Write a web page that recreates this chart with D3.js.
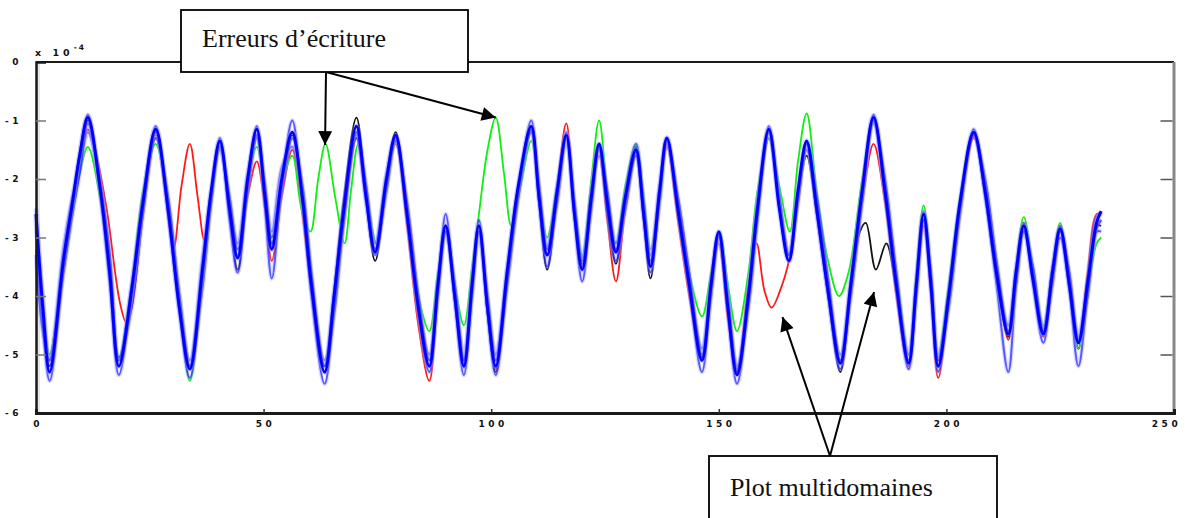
<!DOCTYPE html>
<html><head><meta charset="utf-8">
<script src="https://cdn.jsdelivr.net/npm/d3@7"></script>
<style>
html,body{margin:0;padding:0;background:#fff;}
svg{display:block;}
.tick text{font-family:"DejaVu Sans",sans-serif;font-weight:bold;font-size:9px;fill:#111;letter-spacing:3.5px;}
</style></head>
<body>
<svg id="chart" width="1194" height="518"></svg>
<script>
// ---------------- data (values in units of 1e-4) ----------------
const xTicks = [0, 50, 100, 150, 200, 250];
const yTicks = [0, -1, -2, -3, -4, -5, -6];
const exponentLabel = ["x 10", "-4"];

const TIMES = [0,1.5,3,6,8,9.6,11.4,14,16.2,18.2,
 21,23.5,26.3,29,31.5,33.8,36.5,38.5,40.4,42.5,
 44.3,46.5,48.5,50.3,51.8,54,56.3,58.5,60.5,63.4,
 65.5,67.5,70.4,72.5,74.5,77,79,81.5,84,86.4,
 88.3,90,92,94,95.8,97.3,99.2,101,103.5,106,
 108.8,110.5,112.3,114.5,116.5,118.3,120,122,123.7,125.5,
 127.4,129.5,131.8,133.5,135,137,138.6,141,143.5,146.3,
 148.3,150,152,154,156.5,158.5,161,163.3,165.4,167.4,
 169.3,171.5,174,176.7,179,181.5,184,186.5,189,191.7,
 193.4,195,196.6,198.2,200.5,203,206,208.5,211,213.6,
 215.3,217,219,221.3,223.3,225,227,229,231,233,234];

const blueA = [-2.6,-4.2,-5.3,-3.4,-2.4,-1.6,-0.95,-2.1,-3.6,-5.2,
 -3.9,-2.4,-1.15,-2.5,-4.2,-5.25,-3.6,-2.2,-1.35,-2.5,
 -3.35,-2.0,-1.15,-2.3,-3.2,-2.0,-1.2,-2.3,-3.8,-5.3,
 -4.0,-2.6,-1.1,-2.3,-3.25,-2.0,-1.25,-2.6,-4.2,-5.2,
 -3.8,-2.8,-4.0,-5.2,-3.8,-2.8,-4.2,-5.2,-3.6,-2.1,
 -1.1,-2.3,-3.3,-2.2,-1.25,-2.6,-3.55,-2.3,-1.4,-2.4,
 -3.25,-2.3,-1.5,-2.6,-3.5,-2.2,-1.3,-2.5,-3.8,-5.1,
 -3.8,-2.9,-4.2,-5.35,-4.0,-2.5,-1.15,-2.5,-3.4,-2.2,
 -1.35,-2.5,-3.9,-5.15,-3.8,-2.2,-0.95,-2.2,-3.8,-5.15,
 -3.8,-2.6,-3.8,-5.2,-4.0,-2.4,-1.2,-2.2,-3.6,-4.65,
 -3.6,-2.8,-3.7,-4.65,-3.6,-2.85,-3.8,-4.8,-3.8,-2.75,-2.55];

const blueB = [-2.7,-4.5,-5.45,-3.6,-2.5,-1.55,-0.9,-2.2,-3.8,-5.35,
 -4.0,-2.5,-1.1,-2.6,-4.3,-5.4,-3.7,-2.3,-1.3,-2.7,
 -3.6,-2.1,-1.1,-2.5,-3.7,-2.1,-1.0,-2.4,-4.0,-5.5,
 -4.2,-2.8,-1.3,-2.4,-3.3,-2.1,-1.3,-2.7,-4.3,-5.3,
 -3.9,-2.6,-4.1,-5.35,-3.9,-2.7,-4.3,-5.35,-3.8,-2.2,
 -1.0,-2.4,-3.5,-2.3,-1.2,-2.7,-3.75,-2.4,-1.4,-2.6,
 -3.4,-2.4,-1.6,-2.7,-3.6,-2.3,-1.3,-2.6,-3.9,-5.3,
 -3.9,-2.95,-4.3,-5.5,-4.1,-2.6,-1.1,-2.5,-3.4,-2.3,
 -1.4,-2.6,-4.0,-5.25,-3.9,-2.3,-0.9,-2.3,-3.9,-5.25,
 -3.9,-2.7,-3.9,-5.3,-4.1,-2.5,-1.15,-2.3,-3.8,-5.3,
 -3.8,-2.85,-3.8,-4.8,-3.7,-3.0,-3.9,-5.2,-4.0,-2.9,-2.9];

const blueC = [-2.5,-4.0,-5.1,-3.2,-2.3,-1.8,-1.2,-2.1,-3.4,-5.1,
 -3.8,-2.3,-1.2,-2.5,-4.0,-5.1,-3.4,-2.2,-1.5,-2.4,
 -3.1,-1.9,-1.25,-2.2,-2.9,-1.8,-1.45,-2.2,-3.7,-5.1,
 -3.9,-2.5,-1.25,-2.2,-3.1,-1.9,-1.3,-2.5,-4.1,-5.0,
 -3.7,-2.85,-3.9,-5.05,-3.7,-2.9,-4.1,-5.0,-3.5,-2.1,
 -1.2,-2.2,-3.15,-2.1,-1.3,-2.5,-3.35,-2.2,-1.5,-2.3,
 -3.1,-2.2,-1.4,-2.5,-3.3,-2.1,-1.35,-2.4,-3.7,-4.9,
 -3.7,-2.95,-4.1,-5.2,-3.9,-2.4,-1.2,-2.4,-3.3,-2.2,
 -1.5,-2.4,-3.8,-5.0,-3.7,-2.2,-1.05,-2.2,-3.7,-5.0,
 -3.7,-2.55,-3.7,-5.05,-3.9,-2.4,-1.25,-2.2,-3.5,-4.5,
 -3.5,-2.75,-3.6,-4.55,-3.5,-2.8,-3.7,-4.7,-3.7,-2.65,-2.6];

const blueD = [-3.3,-4.6,-5.1,-3.6,-2.6,-1.9,-1.05,-2.0,-3.3,-5.05,
 -4.2,-2.6,-1.3,-2.3,-4.0,-5.2,-3.9,-2.4,-1.45,-2.3,
 -3.2,-2.2,-1.25,-2.1,-3.1,-2.2,-1.3,-2.1,-3.6,-5.2,
 -4.3,-2.8,-1.2,-2.1,-3.2,-2.2,-1.35,-2.4,-4.0,-5.1,
 -4.0,-2.9,-3.8,-5.1,-4.0,-2.9,-4.0,-5.1,-3.8,-2.3,
 -1.15,-2.1,-3.2,-2.4,-1.3,-2.4,-3.45,-2.5,-1.45,-2.2,
 -3.2,-2.5,-1.55,-2.4,-3.4,-2.4,-1.35,-2.3,-3.6,-5.0,
 -4.0,-3.0,-4.0,-5.25,-4.2,-2.7,-1.2,-2.3,-3.3,-2.4,
 -1.4,-2.3,-3.7,-5.1,-4.0,-2.4,-1.0,-2.0,-3.6,-5.1,
 -4.0,-2.7,-3.6,-5.1,-4.2,-2.6,-1.25,-2.0,-3.4,-4.6,
 -3.8,-2.9,-3.5,-4.6,-3.8,-2.9,-3.6,-4.75,-4.0,-2.85,-2.7];

const blackSeries = [[0,-2.9],[1.5,-4.3],[3,-5.2],[6,-3.5],[8,-2.5],[9.6,-1.6],[11.4,-1.0],[14,-2.2],[16.2,-3.5],[18.2,-5.1],[21,-3.9],[23.5,-2.3],[26.3,-1.2],[29,-2.5],[31.5,-4.1],[33.8,-5.2],[36.5,-3.5],[38.5,-2.3],[40.4,-1.4],[42.5,-2.6],[44.3,-3.55],[46.5,-2.2],[48.5,-1.3],[50.3,-2.2],[51.8,-3.0],[54,-2.0],[56.3,-1.25],[58.5,-2.4],[60.5,-3.9],[63.4,-5.2],[65.5,-3.9],[67.5,-2.4],[70.4,-0.95],[72.5,-2.3],[74.5,-3.4],[77,-2.1],[79,-1.2],[81.5,-2.5],[84,-4.1],[86.4,-5.1],[88.3,-3.7],[90,-2.9],[92,-4.1],[94,-5.2],[95.8,-3.7],[97.3,-2.9],[99.2,-4.3],[101,-5.3],[103.5,-3.7],[106,-2.2],[108.8,-1.2],[110.5,-2.4],[112.3,-3.55],[114.5,-2.3],[116.5,-1.3],[118.3,-2.5],[120,-3.4],[122,-2.3],[123.7,-1.5],[125.5,-2.5],[127.4,-3.45],[129.5,-2.3],[131.8,-1.45],[133.5,-2.7],[135,-3.7],[137,-2.3],[138.6,-1.4],[141,-2.4],[143.5,-3.7],[146.3,-5.05],[148.3,-3.8],[150,-2.95],[152,-4.2],[154,-5.3],[156.5,-3.9],[158.5,-2.6],[161,-1.3],[163.3,-2.4],[165.4,-3.3],[167.4,-2.3],[169.3,-1.6],[171.5,-2.6],[174,-4.0],[176.7,-5.3],[179,-3.9],[181,-2.9],[182.3,-2.75],[184.5,-3.55],[186.8,-3.1],[189,-3.9],[191.7,-5.1],[193.4,-3.8],[195,-2.7],[196.6,-3.7],[198.2,-5.1],[200.5,-3.9],[203,-2.4],[206,-1.25],[208.5,-2.3],[211,-3.7],[213.6,-4.7],[215.3,-3.6],[217,-2.9],[219,-3.6],[221.3,-4.6],[223.3,-3.5],[225,-2.9],[227,-3.7],[229,-4.9],[231,-3.7],[233,-2.8],[234,-2.8]];

const redSeries = [[0,-3.2],[1.5,-4.4],[3,-5.0],[6,-3.4],[8,-2.4],[9.6,-1.6],[11.4,-1.15],[13,-1.5],[15.5,-2.5],[18.4,-4.1],[19.8,-4.45],[21,-4.2],[23.5,-2.6],[26.3,-1.25],[28.3,-2.2],[30.2,-3.2],[32,-2.1],[33.8,-1.4],[35.5,-2.3],[37,-3.05],[38.5,-2.3],[40.4,-1.4],[42.5,-2.5],[44.3,-3.3],[46.5,-2.3],[48.5,-1.7],[50.3,-2.5],[51.8,-3.4],[54,-2.3],[56.3,-1.5],[58.5,-2.6],[60.5,-3.9],[63.4,-5.2],[65.5,-4.0],[67.5,-2.6],[70.4,-1.3],[72.5,-2.3],[74.5,-3.2],[77,-2.0],[79,-1.4],[81.5,-2.8],[84,-4.5],[86.4,-5.45],[88.3,-3.9],[90,-2.8],[92,-4.0],[94,-5.1],[95.8,-3.8],[97.3,-2.9],[99.2,-4.3],[101,-5.25],[103.5,-3.6],[106,-2.1],[108.8,-1.2],[110.5,-2.3],[112.3,-3.3],[114.5,-2.1],[116.5,-1.05],[118.3,-2.6],[120,-3.5],[122,-2.4],[123.7,-1.6],[125.5,-2.7],[127.4,-3.75],[129.5,-2.5],[131.8,-1.6],[133.5,-2.6],[135,-3.45],[137,-2.3],[138.6,-1.45],[141,-2.7],[143.5,-4.0],[146.3,-5.1],[148.3,-3.9],[150,-3.1],[152,-4.4],[154,-5.3],[156.5,-3.8],[158.3,-3.1],[160,-3.9],[161.6,-4.2],[163.5,-3.9],[165.4,-3.4],[167.4,-2.4],[169.3,-1.5],[171.5,-2.5],[174,-3.9],[176.7,-5.1],[179,-3.8],[181.5,-2.4],[184,-1.4],[186.5,-2.4],[189,-4.0],[191.7,-5.2],[193.4,-3.9],[195,-2.8],[196.6,-4.0],[198.2,-5.4],[200.5,-4.1],[203,-2.5],[206,-1.3],[208.5,-2.2],[211,-3.5],[213.6,-4.75],[215.3,-3.7],[217,-2.75],[219,-3.6],[221.3,-4.7],[223.3,-3.6],[225,-2.8],[227,-3.8],[229,-4.9],[231,-3.6],[233,-2.6],[234,-2.6]];

const greenSeries = [[0,-3.0],[1.5,-4.2],[3,-5.0],[6,-3.5],[8,-2.6],[9.6,-1.9],[11.4,-1.45],[14,-2.3],[16.2,-3.7],[18.2,-5.05],[21,-3.8],[23.5,-2.2],[26.3,-1.4],[29,-2.5],[31.5,-4.2],[33.8,-5.45],[36.5,-3.8],[38.5,-2.4],[40.4,-1.4],[42.5,-2.4],[44.3,-3.3],[46.5,-2.1],[48.5,-1.45],[50.3,-2.3],[51.8,-3.1],[54,-2.1],[56.3,-1.6],[58.3,-2.5],[60.3,-2.9],[62,-2.0],[63.6,-1.4],[65.7,-2.3],[67.8,-3.1],[69.2,-2.2],[70.8,-1.4],[72.8,-2.3],[74.8,-3.1],[77,-2.0],[79.2,-1.35],[81.5,-2.6],[84,-4.0],[86.4,-4.6],[88.3,-3.6],[90.2,-2.9],[92,-3.8],[94,-4.5],[95.8,-3.5],[97.3,-2.6],[99.2,-1.5],[101,-0.95],[102.8,-1.9],[104.4,-2.8],[106.5,-2.1],[108.8,-1.35],[110.5,-2.2],[112.3,-3.0],[114.5,-2.1],[116.5,-1.3],[118.3,-2.4],[120,-3.3],[122,-2.0],[123.7,-1.0],[125.5,-2.2],[127.4,-3.1],[129.5,-2.1],[131.8,-1.4],[133.5,-2.3],[135,-3.2],[137,-2.2],[138.6,-1.3],[141,-2.5],[143.5,-3.6],[146.3,-4.35],[148.3,-3.6],[150.2,-2.9],[152,-3.8],[154,-4.6],[156.5,-3.6],[158.5,-2.2],[161,-1.3],[163.5,-2.2],[165.6,-2.9],[167.4,-1.7],[169.3,-0.88],[171.5,-2.2],[174,-3.4],[176.4,-4.0],[178.5,-3.6],[181.5,-2.0],[184,-0.95],[186.5,-2.1],[189,-3.6],[191.7,-5.0],[193.4,-3.6],[195,-2.45],[196.6,-3.6],[198.2,-5.0],[200.5,-3.8],[203,-2.3],[206,-1.2],[208.5,-2.1],[211,-3.5],[213.6,-4.6],[215.3,-3.5],[217,-2.65],[219,-3.5],[221.3,-4.5],[223.3,-3.5],[225,-2.75],[227,-3.9],[229,-4.9],[231,-4.0],[233,-3.1],[234,-3.0]];

const annotationTexts = ["Erreurs d\u2019\u00e9criture", "Plot multidomaines"];
// arrow targets in data units [t, value]
const arrowTargets1 = [[63.5, -1.42], [101, -0.95]];
const arrowTargets2 = [[164, -4.36], [184.1, -3.93]];

// ---------------- drawing ----------------
const svg = d3.select("#chart");
const W = 1194, H = 518;
const m = {left: 36, right: 20, top: 62, bottom: 105};
const x = d3.scaleLinear().domain([0, 250]).range([m.left, W - m.right]);
const y = d3.scaleLinear().domain([-6, 0]).range([H - m.bottom, m.top]);

svg.append("rect").attr("width", W).attr("height", H).attr("fill", "#fff");
svg.append("rect").attr("x", x(0) + 1).attr("y", y(0)).attr("width", 3).attr("height", y(-6) - y(0)).attr("fill", "#e6e6e6");

const zip = arr => TIMES.map((t, i) => [t, arr[i]]);
const line = d3.line().x(d => x(d[0])).y(d => y(d[1])).curve(d3.curveCatmullRom.alpha(0.5));

const series = [
  {pts: redSeries, color: "#ff1a1a", w: 1.8, op: 1},
  {pts: blackSeries, color: "#111111", w: 1.8, op: 1},
  {pts: greenSeries, color: "#11ee11", w: 1.8, op: 1},
  {pts: zip(blueC), color: "#3333ff", w: 2.2, op: 0.55, halo: true},
  {pts: zip(blueD), color: "#1a1aff", w: 2.2, op: 0.75, halo: true},
  {pts: zip(blueB), color: "#2020ff", w: 2.0, op: 0.7, halo: true},
  {pts: zip(blueA), color: "#0000ff", w: 3.0, op: 1, halo: true}
];
const g = svg.append("g");
series.forEach(s => {
  if (s.halo) {
    g.append("path").attr("d", line(s.pts)).attr("fill", "none")
      .attr("stroke", "#9a9aff").attr("stroke-width", s.w + 2.5).attr("stroke-opacity", 0.35)
      .attr("stroke-linejoin", "round");
  }
  g.append("path").attr("d", line(s.pts)).attr("fill", "none")
    .attr("stroke", s.color).attr("stroke-width", s.w).attr("stroke-opacity", s.op)
    .attr("stroke-linejoin", "round");
});

// frame
svg.append("line").attr("x1", x(0)).attr("x2", x(250)).attr("y1", y(0)).attr("y2", y(0)).attr("stroke", "#1a1a1a").attr("stroke-width", 2);
svg.append("line").attr("x1", x(250)).attr("x2", x(250)).attr("y1", y(0)).attr("y2", y(-6)).attr("stroke", "#888").attr("stroke-width", 3);

// axes
const xAxis = d3.axisBottom(x).tickValues(xTicks).tickSize(-4).tickPadding(8).tickFormat(d3.format("d"));
const gx = svg.append("g").attr("transform", `translate(0,${y(-6)})`).call(xAxis);
gx.select(".domain").attr("stroke", "#1a1a1a").attr("stroke-width", 3);
gx.selectAll(".tick line").attr("stroke", "#333").attr("stroke-width", 1.5);
gx.selectAll(".tick text").attr("dx", "1.5px");
gx.selectAll(".tick").filter(d => d === 0 || d === 250).select("line").remove();
gx.selectAll(".tick").filter(d => d === 250).select("text").attr("dx", "-8px");

const yAxis = d3.axisLeft(y).tickValues(yTicks).tickSize(-10).tickPadding(14).tickFormat(d => d === 0 ? "0" : "-" + Math.abs(d));
const gy = svg.append("g").attr("transform", `translate(${x(0)},0)`).call(yAxis);
gy.select(".domain").attr("stroke", "#1a1a1a").attr("stroke-width", 2.5);
gy.selectAll(".tick line").attr("stroke", "#777").attr("stroke-width", 1.5);
gy.selectAll(".tick").filter(d => d === 0 || d === -6).select("line").remove();

const yAxisR = d3.axisRight(y).tickValues(yTicks.filter(d => d !== 0 && d !== -6)).tickSize(-12).tickFormat("");
const gyr = svg.append("g").attr("transform", `translate(${x(250) - 1.5},0)`).call(yAxisR);
gyr.select(".domain").remove();
gyr.selectAll(".tick line").attr("stroke", "#555").attr("stroke-width", 1.5);

// exponent label
const ex = svg.append("text").attr("x", x(0) - 1).attr("y", y(0) - 6)
  .attr("font-family", "DejaVu Sans, sans-serif").attr("font-weight", "bold").attr("font-size", 9.5)
  .attr("letter-spacing", "4px").attr("fill", "#111");
ex.append("tspan").text(exponentLabel[0].replace(" ", "  "));
ex.append("tspan").attr("dy", -6).attr("font-size", 7.5).attr("letter-spacing", "2px").text(exponentLabel[1]);

// annotations
const defs = svg.append("defs");
defs.append("marker").attr("id", "ah").attr("viewBox", "0 0 10 10").attr("refX", 10).attr("refY", 5)
  .attr("markerWidth", 15).attr("markerHeight", 14).attr("markerUnits", "userSpaceOnUse").attr("orient", "auto")
  .append("path").attr("d", "M0,0 L10,5 L0,10 Z").attr("fill", "#000");

function arrow(x1, y1, x2, y2) {
  svg.append("line").attr("x1", x1).attr("y1", y1).attr("x2", x2).attr("y2", y2)
    .attr("stroke", "#000").attr("stroke-width", 2).attr("marker-end", "url(#ah)");
}
const o1 = [326, 72];
arrowTargets1.forEach(d => arrow(o1[0], o1[1], x(d[0]), y(d[1])));
const o2 = [830, 456];
arrowTargets2.forEach(d => arrow(o2[0], o2[1], x(d[0]), y(d[1])));

function box(bx, by, bw, bh, tx, ty, txt) {
  svg.append("rect").attr("x", bx).attr("y", by).attr("width", bw).attr("height", bh)
    .attr("fill", "#fff").attr("stroke", "#000").attr("stroke-width", 1.8);
  svg.append("text").attr("x", tx).attr("y", ty).attr("font-family", "Liberation Serif, Times New Roman, serif")
    .attr("font-size", 26).attr("fill", "#111").text(txt);
}
box(181, 10, 287, 62, 202, 47, annotationTexts[0]);
box(709, 456, 288, 80, 730, 496, annotationTexts[1]);
</script>
</body></html>
